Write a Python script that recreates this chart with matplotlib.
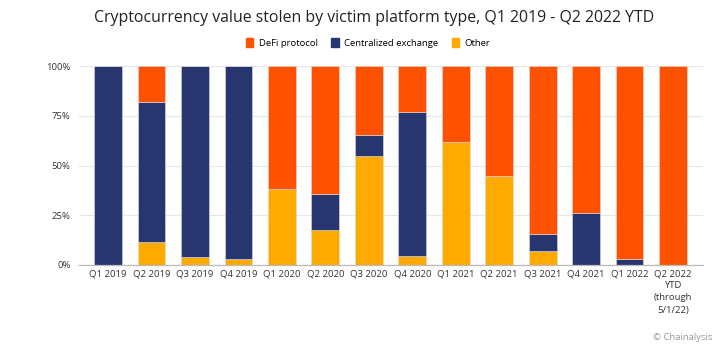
import matplotlib
matplotlib.use('Agg')
from matplotlib import pyplot as plt
import matplotlib.patches as mpatches
import numpy as np

plt.rcParams['font.family'] = ['Open Sans', 'DejaVu Sans']

quarters = ['Q1 2019', 'Q2 2019', 'Q3 2019', 'Q4 2019', 'Q1 2020', 'Q2 2020',
            'Q3 2020', 'Q4 2020', 'Q1 2021', 'Q2 2021', 'Q3 2021', 'Q4 2021',
            'Q1 2022', 'Q2 2022\nYTD\n(through\n5/1/22)']
other = [0, 11.6, 4, 3, 38, 17.5, 54.7, 4.3, 62, 44.5, 7, 0, 0, 0]
centralized = [100, 70.4, 96, 97, 0, 18, 10.8, 72.7, 0, 0, 8.7, 26.3, 3, 0]
defi = [0, 18, 0, 0, 62, 64.5, 34.5, 23, 38, 55.5, 84.3, 73.7, 97, 100]

c_defi = '#ff5200'
c_cent = '#27366e'
c_other = '#ffaa00'

fig = plt.figure(figsize=(7.23, 3.58), dpi=100)
ax = fig.add_axes([79 / 723, 1 - 265 / 358, (703 - 79) / 723, (265 - 66) / 358])

x = np.arange(len(quarters))
other = np.array(other)
centralized = np.array(centralized)
defi = np.array(defi)
w = 0.64
ax.bar(x, other, w, color=c_other, edgecolor='#dddddd', linewidth=0.4, zorder=2)
ax.bar(x, centralized, w, bottom=other, color=c_cent, edgecolor='#dddddd', linewidth=0.4, zorder=2)
ax.bar(x, defi, w, bottom=other + centralized, color=c_defi, edgecolor='#dddddd', linewidth=0.4, zorder=2)

ax.set_xlim(-0.67, len(quarters) - 1 + 0.69)
ax.set_ylim(0, 100)
ax.set_yticks([0, 25, 50, 75, 100])
ax.set_yticklabels(['0%', '25%', '50%', '75%', '100%'])
ax.set_xticks(x)
ax.set_xticklabels(quarters, va='top', linespacing=1.45)
ax.tick_params(axis='both', length=0, labelsize=6.8, colors='#333333')
ax.tick_params(axis='x', pad=3)
ax.tick_params(axis='y', pad=6)
ax.grid(axis='y', color='#e6e6e6', linewidth=0.8, zorder=0)
for s in ['top', 'right', 'left']:
    ax.spines[s].set_visible(False)
ax.spines['bottom'].set_color('#bbbbbb')
ax.spines['bottom'].set_linewidth(0.9)

fig.text(374 / 723, 1 - 18 / 358, 'Cryptocurrency value stolen by victim platform type, Q1 2019 - Q2 2022 YTD',
         ha='center', va='center', fontsize=11.4, color='#222222')

handles = [mpatches.Patch(color=c_defi, label='DeFi protocol'),
           mpatches.Patch(color=c_cent, label='Centralized exchange'),
           mpatches.Patch(color=c_other, label='Other')]
fig.legend(handles=handles, loc='center', bbox_to_anchor=(368 / 723, 1 - 43 / 358), ncol=3,
           frameon=False, fontsize=6.8, handlelength=0.8, handleheight=1.0,
           handletextpad=0.6, columnspacing=1.4)

fig.text(712 / 723, 1 - 338 / 358, '© Chainalysis', ha='right', va='center',
         fontsize=6.8, color='#999999')

plt.savefig('out.png', dpi=100)
